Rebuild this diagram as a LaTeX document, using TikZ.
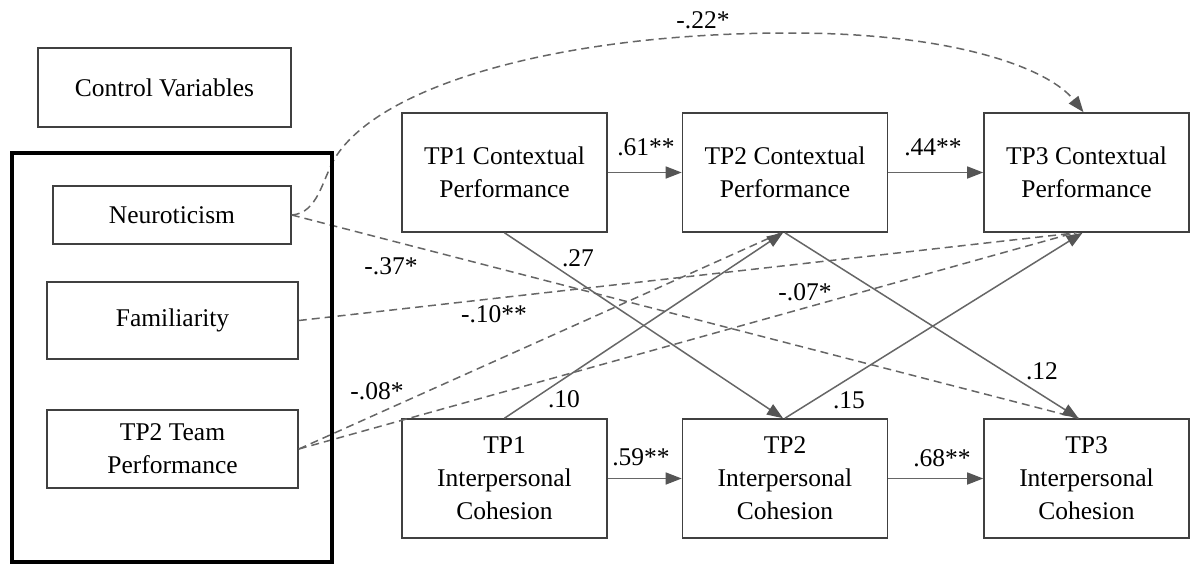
\documentclass[tikz,border=0pt]{standalone}
\usepackage{fontspec}
\setmainfont{Liberation Serif}
\usetikzlibrary{arrows.meta}
\definecolor{linegray}{HTML}{666666}
\definecolor{tipgray}{HTML}{555555}
\definecolor{boxgray}{HTML}{404040}
\begin{document}
\begin{tikzpicture}[x=1pt,y=-1pt,
  every node/.style={font=\fontsize{25.5}{33}\selectfont},
  box/.style={draw=boxgray,line width=1.6pt,align=center,inner sep=0pt},
  pathbox/.style={box,minimum width=205pt,minimum height=119pt},
  link/.style={draw=linegray,line width=1.5pt},
  tip/.style={-{Triangle[length=16pt 0,width=12pt 0,color=tipgray]}},
  dashedlink/.style={link,dash pattern=on 8pt off 5pt},
  coef/.style={inner sep=0pt}]
\useasboundingbox (0,0) rectangle (1191,565);

% control variable boxes
\node[box,minimum width=253pt,minimum height=79pt] (ctrl) at (164.5,87.5) {Control Variables};
\node[box,minimum width=238pt,minimum height=58pt] (neu) at (172,215) {Neuroticism};
\node[box,minimum width=251pt,minimum height=77pt] (fam) at (172.5,320.5) {Familiarity};
\node[box,minimum width=251pt,minimum height=78pt] (team) at (172.5,449) {TP2 Team\\Performance};

% panel variables
\node[pathbox] (tp1c) at (504.5,172.5) {TP1 Contextual\\Performance};
\node[pathbox] (tp2c) at (785,172.5) {TP2 Contextual\\Performance};
\node[pathbox] (tp3c) at (1086.5,172.5) {TP3 Contextual\\Performance};
\node[pathbox] (tp1i) at (504.5,478.5) {TP1\\Interpersonal\\Cohesion};
\node[pathbox] (tp2i) at (785,478.5) {TP2\\Interpersonal\\Cohesion};
\node[pathbox] (tp3i) at (1086.5,478.5) {TP3\\Interpersonal\\Cohesion};

% control paths (dashed)
\draw[dashedlink,tip] (neu.east) .. controls (318,213) and (322,180) .. (335,158)
  .. controls (380,85) and (560,33) .. (790,33)
  .. controls (960,33) and (1050,70) .. ([xshift=-3pt]tp3c.north);
\draw[dashedlink] (neu.east) -- ([xshift=-8pt]tp3i.north);
\draw[dashedlink] (fam.east) -- ([xshift=-10pt]tp3c.south);
\draw[dashedlink] (team.east) -- ([xshift=-4pt]tp2c.south);
\draw[dashedlink] (team.east) -- ([xshift=-12pt]tp3c.south);

% autoregressive paths
\draw[link,tip] (tp1c) -- (tp2c);
\draw[link,tip] (tp2c) -- (tp3c);
\draw[link,tip] (tp1i) -- (tp2i);
\draw[link,tip] (tp2i) -- (tp3i);

% cross-lagged paths
\draw[link,tip] (tp1c.south) -- ([xshift=-2pt]tp2i.north);
\draw[link,tip] (tp1i.north) -- ([xshift=-2pt]tp2c.south);
\draw[link,tip] (tp2c.south) -- ([xshift=-8pt]tp3i.north);
\draw[link,tip] (tp2i.north) -- ([xshift=-4pt]tp3c.south);

% grouping frame for the control variables
\draw[black,line width=4.5pt] (12,153) rectangle (332,562);

% coefficients
\node[coef] (c22) at (703,20) {-.22*};
\node[coef] (c61) at (646,147) {.61**};
\node[coef] (c44) at (933,147) {.44**};
\node[coef] (c27) at (578,258) {.27};
\node[coef] (c37) at (391,266) {-.37*};
\node[coef] (c10n) at (494,314) {-.10**};
\node[coef] (c07) at (805,292) {-.07*};
\node[coef] (c08) at (377,391) {-.08*};
\node[coef] (c10) at (564,399) {.10};
\node[coef] (c15) at (849,400) {.15};
\node[coef] (c12) at (1042,371) {.12};
\node[coef] (c59) at (641,457) {.59**};
\node[coef] (c68) at (942,458) {.68**};
\end{tikzpicture}
\end{document}
